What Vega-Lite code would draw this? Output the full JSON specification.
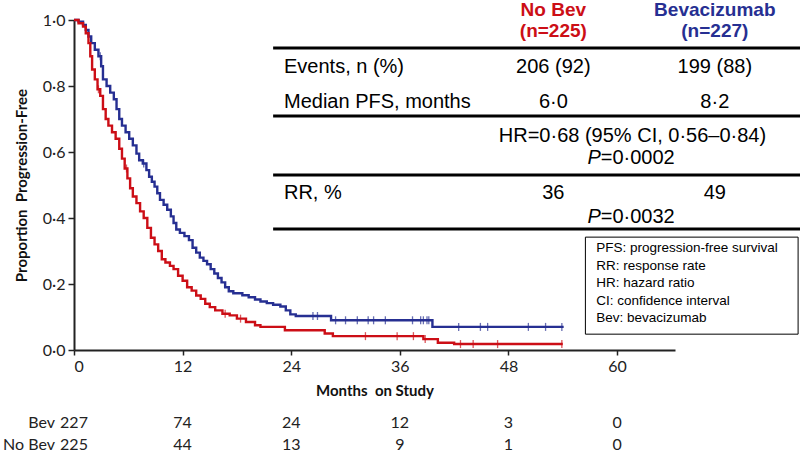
{
  "$schema": "https://vega.github.io/schema/vega-lite/v6.json",
  "width": 601,
  "height": 330,
  "autosize": {"type": "none"},
  "padding": {"left": 74, "top": 20, "right": 125, "bottom": 110},
  "background": "white",
  "config": {"view": {"stroke": null}},
  "datasets": {
    "km": [
      {"arm":"Bevacizumab","month":0,"p":1.0},{"arm":"Bevacizumab","month":0.5,"p":0.995},{"arm":"Bevacizumab","month":1.0,"p":0.985},{"arm":"Bevacizumab","month":1.3,"p":0.97},{"arm":"Bevacizumab","month":1.6,"p":0.95},{"arm":"Bevacizumab","month":1.9,"p":0.93},{"arm":"Bevacizumab","month":2.3,"p":0.91},{"arm":"Bevacizumab","month":2.7,"p":0.89},{"arm":"Bevacizumab","month":3.0,"p":0.86},{"arm":"Bevacizumab","month":3.2,"p":0.82},{"arm":"Bevacizumab","month":3.6,"p":0.80},{"arm":"Bevacizumab","month":4.0,"p":0.78},{"arm":"Bevacizumab","month":4.4,"p":0.76},{"arm":"Bevacizumab","month":4.7,"p":0.73},{"arm":"Bevacizumab","month":5.0,"p":0.70},{"arm":"Bevacizumab","month":5.3,"p":0.68},{"arm":"Bevacizumab","month":5.7,"p":0.66},{"arm":"Bevacizumab","month":6.1,"p":0.64},{"arm":"Bevacizumab","month":6.5,"p":0.62},{"arm":"Bevacizumab","month":6.9,"p":0.595},{"arm":"Bevacizumab","month":7.2,"p":0.575},{"arm":"Bevacizumab","month":7.6,"p":0.565},{"arm":"Bevacizumab","month":8.0,"p":0.545},{"arm":"Bevacizumab","month":8.3,"p":0.525},{"arm":"Bevacizumab","month":8.6,"p":0.51},{"arm":"Bevacizumab","month":8.9,"p":0.495},{"arm":"Bevacizumab","month":9.2,"p":0.475},{"arm":"Bevacizumab","month":9.5,"p":0.455},{"arm":"Bevacizumab","month":9.9,"p":0.44},{"arm":"Bevacizumab","month":10.3,"p":0.425},{"arm":"Bevacizumab","month":10.7,"p":0.405},{"arm":"Bevacizumab","month":11.0,"p":0.385},{"arm":"Bevacizumab","month":11.3,"p":0.365},{"arm":"Bevacizumab","month":11.7,"p":0.355},{"arm":"Bevacizumab","month":12.2,"p":0.345},{"arm":"Bevacizumab","month":12.7,"p":0.333},{"arm":"Bevacizumab","month":13.1,"p":0.31},{"arm":"Bevacizumab","month":13.5,"p":0.295},{"arm":"Bevacizumab","month":13.9,"p":0.28},{"arm":"Bevacizumab","month":14.3,"p":0.27},{"arm":"Bevacizumab","month":14.7,"p":0.26},{"arm":"Bevacizumab","month":15.1,"p":0.245},{"arm":"Bevacizumab","month":15.5,"p":0.232},{"arm":"Bevacizumab","month":15.9,"p":0.218},{"arm":"Bevacizumab","month":16.3,"p":0.205},{"arm":"Bevacizumab","month":16.7,"p":0.19},{"arm":"Bevacizumab","month":17.1,"p":0.178},{"arm":"Bevacizumab","month":17.6,"p":0.172},{"arm":"Bevacizumab","month":18.6,"p":0.166},{"arm":"Bevacizumab","month":19.3,"p":0.16},{"arm":"Bevacizumab","month":20.0,"p":0.153},{"arm":"Bevacizumab","month":20.6,"p":0.147},{"arm":"Bevacizumab","month":21.3,"p":0.142},{"arm":"Bevacizumab","month":22.0,"p":0.137},{"arm":"Bevacizumab","month":22.8,"p":0.132},{"arm":"Bevacizumab","month":23.4,"p":0.12},{"arm":"Bevacizumab","month":23.9,"p":0.108},{"arm":"Bevacizumab","month":24.5,"p":0.103},{"arm":"Bevacizumab","month":28.4,"p":0.09},{"arm":"Bevacizumab","month":39.6,"p":0.07},{"arm":"Bevacizumab","month":54.1,"p":0.07},
      {"arm":"No Bev","month":0,"p":1.0},{"arm":"No Bev","month":0.5,"p":0.99},{"arm":"No Bev","month":1.0,"p":0.98},{"arm":"No Bev","month":1.3,"p":0.96},{"arm":"No Bev","month":1.6,"p":0.93},{"arm":"No Bev","month":1.8,"p":0.89},{"arm":"No Bev","month":2.0,"p":0.85},{"arm":"No Bev","month":2.3,"p":0.82},{"arm":"No Bev","month":2.6,"p":0.79},{"arm":"No Bev","month":2.9,"p":0.77},{"arm":"No Bev","month":3.2,"p":0.73},{"arm":"No Bev","month":3.5,"p":0.70},{"arm":"No Bev","month":3.8,"p":0.68},{"arm":"No Bev","month":4.2,"p":0.66},{"arm":"No Bev","month":4.6,"p":0.64},{"arm":"No Bev","month":5.0,"p":0.61},{"arm":"No Bev","month":5.3,"p":0.58},{"arm":"No Bev","month":5.6,"p":0.55},{"arm":"No Bev","month":5.9,"p":0.52},{"arm":"No Bev","month":6.2,"p":0.49},{"arm":"No Bev","month":6.5,"p":0.465},{"arm":"No Bev","month":6.9,"p":0.445},{"arm":"No Bev","month":7.3,"p":0.42},{"arm":"No Bev","month":7.7,"p":0.40},{"arm":"No Bev","month":8.1,"p":0.37},{"arm":"No Bev","month":8.5,"p":0.34},{"arm":"No Bev","month":8.9,"p":0.32},{"arm":"No Bev","month":9.3,"p":0.30},{"arm":"No Bev","month":9.7,"p":0.275},{"arm":"No Bev","month":10.1,"p":0.265},{"arm":"No Bev","month":10.6,"p":0.255},{"arm":"No Bev","month":11.0,"p":0.245},{"arm":"No Bev","month":11.5,"p":0.225},{"arm":"No Bev","month":12.0,"p":0.21},{"arm":"No Bev","month":12.5,"p":0.19},{"arm":"No Bev","month":13.0,"p":0.18},{"arm":"No Bev","month":13.5,"p":0.165},{"arm":"No Bev","month":14.0,"p":0.155},{"arm":"No Bev","month":14.5,"p":0.14},{"arm":"No Bev","month":15.0,"p":0.13},{"arm":"No Bev","month":15.6,"p":0.12},{"arm":"No Bev","month":16.4,"p":0.11},{"arm":"No Bev","month":17.2,"p":0.105},{"arm":"No Bev","month":18.0,"p":0.095},{"arm":"No Bev","month":19.0,"p":0.085},{"arm":"No Bev","month":20.0,"p":0.075},{"arm":"No Bev","month":20.6,"p":0.07},{"arm":"No Bev","month":23.3,"p":0.06},{"arm":"No Bev","month":27.7,"p":0.05},{"arm":"No Bev","month":28.6,"p":0.042},{"arm":"No Bev","month":38.6,"p":0.033},{"arm":"No Bev","month":40.2,"p":0.022},{"arm":"No Bev","month":42.0,"p":0.018},{"arm":"No Bev","month":54.0,"p":0.018}
    ],
    "censor": [
      {"arm":"Bevacizumab","month":2.9,"p":0.89},{"arm":"Bevacizumab","month":7.7,"p":0.565},{"arm":"Bevacizumab","month":26.4,"p":0.103},{"arm":"Bevacizumab","month":26.9,"p":0.103},{"arm":"Bevacizumab","month":28.9,"p":0.09},{"arm":"Bevacizumab","month":30.0,"p":0.09},{"arm":"Bevacizumab","month":31.3,"p":0.09},{"arm":"Bevacizumab","month":32.5,"p":0.09},{"arm":"Bevacizumab","month":33.1,"p":0.09},{"arm":"Bevacizumab","month":34.4,"p":0.09},{"arm":"Bevacizumab","month":37.4,"p":0.09},{"arm":"Bevacizumab","month":38.3,"p":0.09},{"arm":"Bevacizumab","month":38.6,"p":0.09},{"arm":"Bevacizumab","month":39.0,"p":0.09},{"arm":"Bevacizumab","month":39.2,"p":0.09},{"arm":"Bevacizumab","month":42.5,"p":0.07},{"arm":"Bevacizumab","month":44.9,"p":0.07},{"arm":"Bevacizumab","month":45.7,"p":0.07},{"arm":"Bevacizumab","month":50.2,"p":0.07},{"arm":"Bevacizumab","month":52.1,"p":0.07},{"arm":"Bevacizumab","month":53.9,"p":0.07},
      {"arm":"No Bev","month":2.7,"p":0.79},{"arm":"No Bev","month":5.8,"p":0.55},{"arm":"No Bev","month":16.7,"p":0.11},{"arm":"No Bev","month":18.4,"p":0.095},{"arm":"No Bev","month":32.2,"p":0.042},{"arm":"No Bev","month":35.7,"p":0.042},{"arm":"No Bev","month":37.5,"p":0.042},{"arm":"No Bev","month":38.8,"p":0.033},{"arm":"No Bev","month":42.7,"p":0.018},{"arm":"No Bev","month":44.1,"p":0.018},{"arm":"No Bev","month":46.8,"p":0.018},{"arm":"No Bev","month":53.9,"p":0.018}
    ],
    "rules": [
      {"x":22.0,"x2":80.3,"y":0.915},{"x":22.0,"x2":80.3,"y":0.709},{"x":22.0,"x2":80.3,"y":0.530},{"x":22.0,"x2":80.3,"y":0.367}
    ],
    "headers": [
      {"arm":"No Bev","x":52.96,"y":1.0288,"t":"No Bev"},{"arm":"No Bev","x":52.96,"y":0.9667,"t":"(n=225)"},
      {"arm":"Bevacizumab","x":70.8,"y":1.0288,"t":"Bevacizumab"},{"arm":"Bevacizumab","x":70.8,"y":0.9667,"t":"(n=227)"}
    ],
    "rowlabels": [
      {"x":23.2,"y":0.858,"t":"Events, n (%)"},{"x":23.2,"y":0.752,"t":"Median PFS, months"},{"x":23.2,"y":0.476,"t":"RR, %"}
    ],
    "cells": [
      {"x":52.96,"y":0.858,"t":"206 (92)"},{"x":70.8,"y":0.858,"t":"199 (88)"},
      {"x":52.96,"y":0.752,"t":"6·0"},{"x":70.8,"y":0.752,"t":"8·2"},
      {"x":61.7,"y":0.648,"t":"HR=0·68 (95% CI, 0·56–0·84)"},
      {"x":52.96,"y":0.476,"t":"36"},{"x":70.8,"y":0.476,"t":"49"}
    ],
    "pitalic": [
      {"x":58.2,"y":0.582,"t":"P"},{"x":58.2,"y":0.403,"t":"P"}
    ],
    "prest": [
      {"x":58.2,"y":0.582,"t":"=0·0002"},{"x":58.2,"y":0.403,"t":"=0·0032"}
    ],
    "box": [
      {"x":56.5,"x2":80.0,"y":0.342,"y2":0.048}
    ],
    "legend": [
      {"x":57.7,"y":0.309,"t":"PFS: progression-free survival"},
      {"x":57.7,"y":0.256,"t":"RR: response rate"},
      {"x":57.7,"y":0.203,"t":"HR: hazard ratio"},
      {"x":57.7,"y":0.150,"t":"CI: confidence interval"},
      {"x":57.7,"y":0.097,"t":"Bev: bevacizumab"}
    ],
    "atrisk": [
      {"x":0,"y":-0.221,"t":"227"},{"x":12,"y":-0.221,"t":"74"},{"x":24,"y":-0.221,"t":"24"},{"x":36,"y":-0.221,"t":"12"},{"x":48,"y":-0.221,"t":"3"},{"x":60,"y":-0.221,"t":"0"},
      {"x":0,"y":-0.288,"t":"225"},{"x":12,"y":-0.288,"t":"44"},{"x":24,"y":-0.288,"t":"13"},{"x":36,"y":-0.288,"t":"9"},{"x":48,"y":-0.288,"t":"1"},{"x":60,"y":-0.288,"t":"0"}
    ],
    "risklabels": [
      {"x":-2.1,"y":-0.221,"t":"Bev"},{"x":-2.1,"y":-0.288,"t":"No Bev"}
    ]
  },
  "layer": [
    {
      "data": {"name": "km"},
      "mark": {"type": "line", "interpolate": "step-after", "strokeWidth": 2.4},
      "encoding": {
        "x": {"field": "month", "type": "quantitative",
              "scale": {"domain": [0, 66.4], "nice": false, "zero": false},
              "axis": {"title": "Months\u00a0 on Study", "values": [0, 12, 24, 36, 48, 60], "grid": false,
                       "domainColor": "#222", "domainWidth": 2, "tickColor": "#222", "tickWidth": 1.5, "tickSize": 5,
                       "labelFont": "Lato", "labelFontSize": 16, "labelColor": "#222", "labelPadding": 3,
                       "titleFont": "Lato", "titleFontSize": 15, "titleFontWeight": "bold", "titleColor": "#111", "titlePadding": 9}},
        "y": {"field": "p", "type": "quantitative",
              "scale": {"domain": [0, 1], "nice": false, "zero": false},
              "axis": {"title": "Proportion\u00a0 Progression-Free", "values": [0, 0.2, 0.4, 0.6, 0.8, 1.0], "grid": false,
                       "labelExpr": "replace(format(datum.value, '.1f'), '.', '·')",
                       "domainColor": "#222", "domainWidth": 2, "tickColor": "#222", "tickWidth": 1.5, "tickSize": 6,
                       "labelFont": "Lato", "labelFontSize": 16, "labelColor": "#222", "labelPadding": 3,
                       "titleFont": "Lato", "titleFontSize": 15, "titleFontWeight": "bold", "titleColor": "#111", "titlePadding": 13}},
        "color": {"field": "arm", "type": "nominal",
                  "scale": {"domain": ["No Bev", "Bevacizumab"], "range": ["#cc0e16", "#262f92"]}, "legend": null}
      }
    },
    {
      "data": {"name": "censor"},
      "mark": {"type": "tick", "orient": "vertical", "size": 8, "thickness": 1.3},
      "encoding": {
        "x": {"field": "month", "type": "quantitative"},
        "y": {"field": "p", "type": "quantitative"},
        "color": {"field": "arm", "type": "nominal"}
      }
    },
    {
      "data": {"name": "rules"},
      "mark": {"type": "rule", "strokeWidth": 3, "color": "#000"},
      "encoding": {
        "x": {"field": "x", "type": "quantitative"},
        "x2": {"field": "x2"},
        "y": {"field": "y", "type": "quantitative"}
      }
    },
    {
      "data": {"name": "headers"},
      "mark": {"type": "text", "font": "Liberation Sans", "fontSize": 19, "fontWeight": "bold", "align": "center", "baseline": "middle"},
      "encoding": {
        "x": {"field": "x", "type": "quantitative"},
        "y": {"field": "y", "type": "quantitative"},
        "text": {"field": "t"},
        "color": {"field": "arm", "type": "nominal"}
      }
    },
    {
      "data": {"name": "rowlabels"},
      "mark": {"type": "text", "font": "Liberation Sans", "fontSize": 20, "align": "left", "baseline": "middle", "color": "#000"},
      "encoding": {
        "x": {"field": "x", "type": "quantitative"},
        "y": {"field": "y", "type": "quantitative"},
        "text": {"field": "t"}
      }
    },
    {
      "data": {"name": "cells"},
      "mark": {"type": "text", "font": "Liberation Sans", "fontSize": 20, "align": "center", "baseline": "middle", "color": "#000"},
      "encoding": {
        "x": {"field": "x", "type": "quantitative"},
        "y": {"field": "y", "type": "quantitative"},
        "text": {"field": "t"}
      }
    },
    {
      "data": {"name": "pitalic"},
      "mark": {"type": "text", "font": "Liberation Sans", "fontSize": 20, "fontStyle": "italic", "align": "right", "baseline": "middle", "color": "#000"},
      "encoding": {
        "x": {"field": "x", "type": "quantitative"},
        "y": {"field": "y", "type": "quantitative"},
        "text": {"field": "t"}
      }
    },
    {
      "data": {"name": "prest"},
      "mark": {"type": "text", "font": "Liberation Sans", "fontSize": 20, "align": "left", "baseline": "middle", "color": "#000"},
      "encoding": {
        "x": {"field": "x", "type": "quantitative"},
        "y": {"field": "y", "type": "quantitative"},
        "text": {"field": "t"}
      }
    },
    {
      "data": {"name": "box"},
      "mark": {"type": "rect", "fill": "white", "stroke": "#000", "strokeWidth": 1},
      "encoding": {
        "x": {"field": "x", "type": "quantitative"},
        "x2": {"field": "x2"},
        "y": {"field": "y", "type": "quantitative"},
        "y2": {"field": "y2"}
      }
    },
    {
      "data": {"name": "legend"},
      "mark": {"type": "text", "font": "Liberation Sans", "fontSize": 13.5, "align": "left", "baseline": "middle", "color": "#000"},
      "encoding": {
        "x": {"field": "x", "type": "quantitative"},
        "y": {"field": "y", "type": "quantitative"},
        "text": {"field": "t"}
      }
    },
    {
      "data": {"name": "atrisk"},
      "mark": {"type": "text", "font": "Lato", "fontSize": 16, "align": "center", "baseline": "middle", "color": "#222"},
      "encoding": {
        "x": {"field": "x", "type": "quantitative"},
        "y": {"field": "y", "type": "quantitative"},
        "text": {"field": "t"}
      }
    },
    {
      "data": {"name": "risklabels"},
      "mark": {"type": "text", "font": "Lato", "fontSize": 16, "align": "right", "baseline": "middle", "color": "#222"},
      "encoding": {
        "x": {"field": "x", "type": "quantitative"},
        "y": {"field": "y", "type": "quantitative"},
        "text": {"field": "t"}
      }
    }
  ]
}
